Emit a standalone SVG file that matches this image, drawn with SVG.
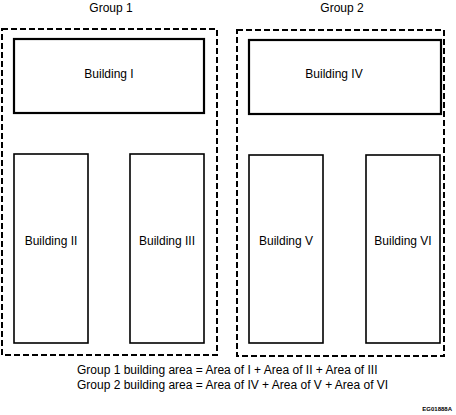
<svg xmlns="http://www.w3.org/2000/svg" width="456" height="415" viewBox="0 0 456 415">
<style>
.grp{fill:none;stroke:#000;stroke-width:2;stroke-dasharray:6,3}
.bld{fill:#fff;stroke:#000;stroke-width:1.6}
.big{stroke-width:2.2}
text{font-family:"Liberation Sans",Arial,sans-serif;font-size:12px;fill:#000}
.c{text-anchor:middle}
.tiny{font-size:6px;font-weight:bold}
</style>
<rect width="456" height="415" fill="#fff"/>
<g id="group1">
<rect class="grp" x="2" y="29" width="215" height="326"/>
<text class="c" x="111" y="12">Group 1</text>
</g>
<g id="group2">
<rect class="grp" x="237" y="30" width="207" height="326"/>
<text class="c" x="342" y="12">Group 2</text>
</g>
<g id="building1">
<rect class="bld big" x="14" y="39" width="190" height="74"/>
<text class="c" x="109" y="78">Building I</text>
</g>
<g id="building2">
<rect class="bld" x="14" y="154" width="74" height="189"/>
<text class="c" x="51" y="245">Building II</text>
</g>
<g id="building3">
<rect class="bld" x="130" y="154" width="74" height="189"/>
<text class="c" x="167" y="245">Building III</text>
</g>
<g id="building4">
<rect class="bld big" x="249" y="40" width="192" height="74"/>
<text class="c" x="334" y="78">Building IV</text>
</g>
<g id="building5">
<rect class="bld" x="249" y="155" width="74" height="188"/>
<text class="c" x="286" y="245">Building V</text>
</g>
<g id="building6">
<rect class="bld" x="366" y="155" width="74" height="188"/>
<text class="c" x="403" y="245">Building VI</text>
</g>
<g id="connectors"/>
<g id="notes">
<text x="77" y="374">Group 1 building area = Area of I + Area of II + Area of III</text>
<text x="77" y="389">Group 2 building area = Area of IV + Area of V + Area of VI</text>
<text class="tiny" x="452" y="411" text-anchor="end">EG01888A</text>
</g>
</svg>
